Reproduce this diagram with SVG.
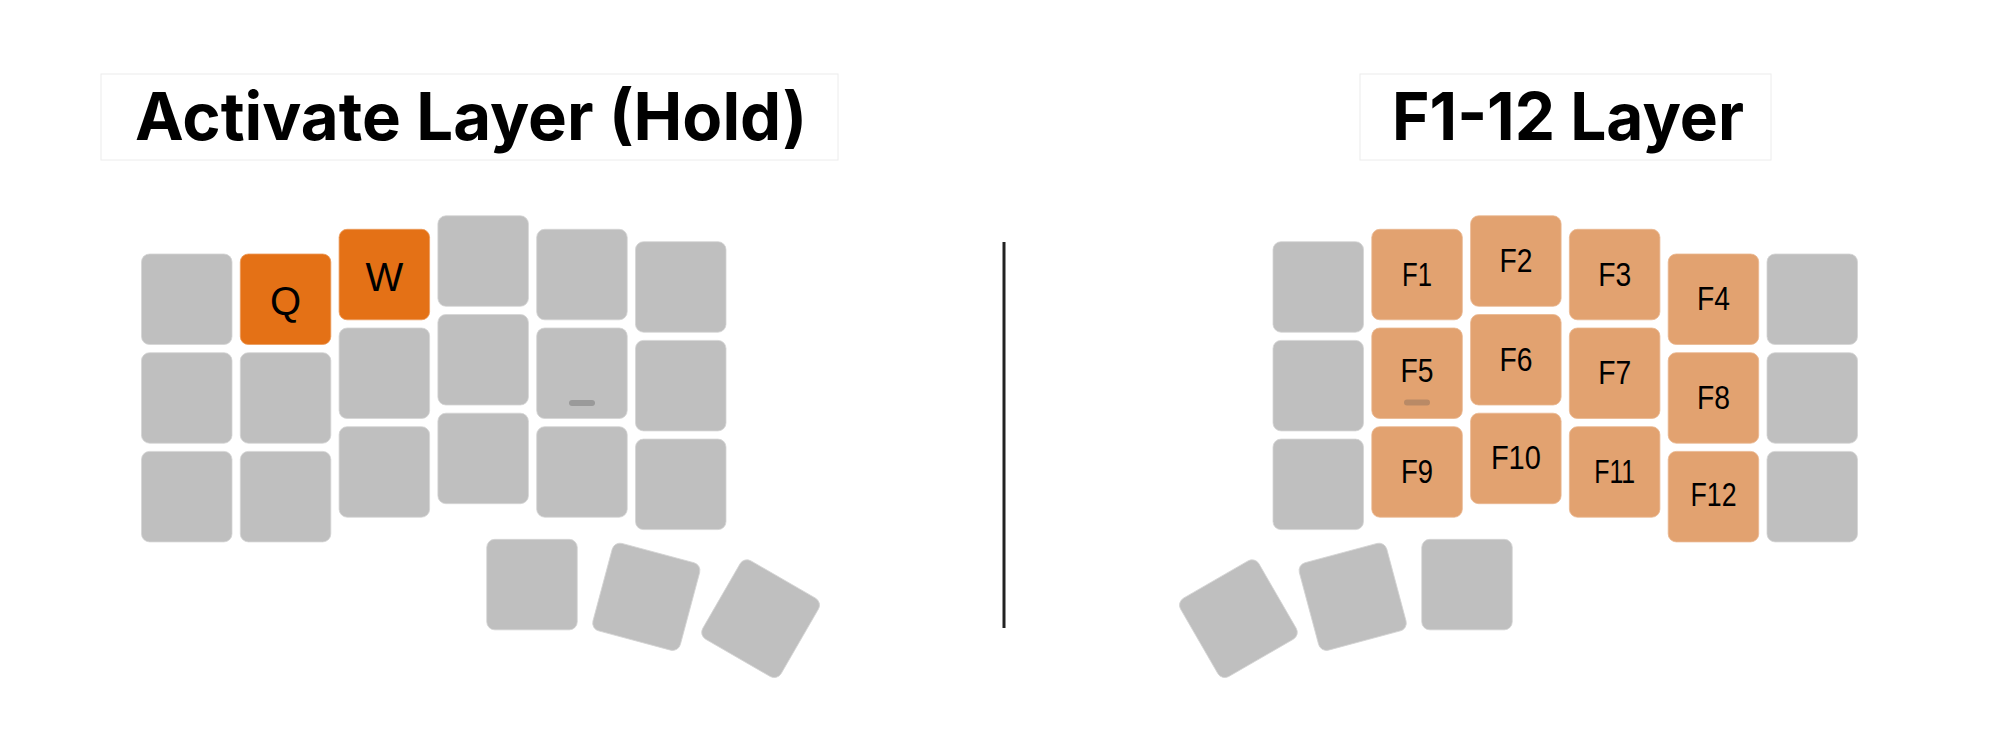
<svg xmlns="http://www.w3.org/2000/svg" width="1999" height="748" viewBox="0 0 1999 748">
<defs>
<style>
.k{fill:#bfbfbf;stroke:#d4d4d4;stroke-width:0.8}
.o{fill:#e47116;stroke:#eb9a5a;stroke-width:0.8}
.f{fill:#e2a270;stroke:#eab890;stroke-width:0.8}
.tb{fill:#ffffff;stroke:#ececec;stroke-width:1}
.tt{font-family:Inter,"Liberation Sans",sans-serif;font-weight:700;font-size:66px;fill:#000}
.kl{font-family:"Liberation Sans",Arial,sans-serif;font-size:40px;fill:#000;text-anchor:middle}
.fl{font-family:"Liberation Sans",Arial,sans-serif;font-size:34px;fill:#000;text-anchor:middle}
</style>
<rect id="key" x="-45.25" y="-45.25" width="90.5" height="90.5" rx="8"/>
</defs>
<rect width="1999" height="748" fill="#ffffff"/>

<g id="title-left">
<rect class="tb" x="101" y="74" width="737" height="86"/>
<text class="tt" x="135" y="140" textLength="672" lengthAdjust="spacingAndGlyphs">Activate Layer (Hold)</text>
</g>
<g id="title-right">
<rect class="tb" x="1360" y="74" width="411" height="86"/>
<text class="tt" x="1392" y="140" textLength="352" lengthAdjust="spacingAndGlyphs">F1-12 Layer</text>
</g>

<g id="connectors">
<line x1="1004" y1="242" x2="1004" y2="628" stroke="#222222" stroke-width="3"/>
</g>

<g id="left-half">
<g id="L-c0"><rect class="k" x="141.5" y="254" width="90.5" height="90.5" rx="8"/><rect class="k" x="141.5" y="352.7" width="90.5" height="90.5" rx="8"/><rect class="k" x="141.5" y="451.4" width="90.5" height="90.5" rx="8"/></g>
<g id="L-c1"><rect class="o" x="240.3" y="254" width="90.5" height="90.5" rx="8"/><text class="kl" x="285.5" y="314.5">Q</text><rect class="k" x="240.3" y="352.7" width="90.5" height="90.5" rx="8"/><rect class="k" x="240.3" y="451.4" width="90.5" height="90.5" rx="8"/></g>
<g id="L-c2"><rect class="o" x="339.1" y="229.3" width="90.5" height="90.5" rx="8"/><text class="kl" x="384.4" y="290.5">W</text><rect class="k" x="339.1" y="328" width="90.5" height="90.5" rx="8"/><rect class="k" x="339.1" y="426.7" width="90.5" height="90.5" rx="8"/></g>
<g id="L-c3"><rect class="k" x="437.9" y="215.8" width="90.5" height="90.5" rx="8"/><rect class="k" x="437.9" y="314.5" width="90.5" height="90.5" rx="8"/><rect class="k" x="437.9" y="413.2" width="90.5" height="90.5" rx="8"/></g>
<g id="L-c4"><rect class="k" x="536.7" y="229.3" width="90.5" height="90.5" rx="8"/><rect class="k" x="536.7" y="328" width="90.5" height="90.5" rx="8"/><rect x="569" y="400" width="26" height="6" rx="3" fill="#9a9a9a"/><rect class="k" x="536.7" y="426.7" width="90.5" height="90.5" rx="8"/></g>
<g id="L-c5"><rect class="k" x="635.5" y="241.7" width="90.5" height="90.5" rx="8"/><rect class="k" x="635.5" y="340.4" width="90.5" height="90.5" rx="8"/><rect class="k" x="635.5" y="439.1" width="90.5" height="90.5" rx="8"/></g>
<g id="L-thumb">
<use href="#key" class="k" transform="translate(532,584.6)"/>
<use href="#key" class="k" transform="translate(646.3,596.8) rotate(15)"/>
<use href="#key" class="k" transform="translate(760.6,618.7) rotate(30)"/>
</g>
</g>

<g id="right-half">
<g id="R-c0"><rect class="k" x="1273" y="241.7" width="90.5" height="90.5" rx="8"/><rect class="k" x="1273" y="340.4" width="90.5" height="90.5" rx="8"/><rect class="k" x="1273" y="439.1" width="90.5" height="90.5" rx="8"/></g>
<g id="R-c1">
<rect class="f" x="1371.8" y="229.3" width="90.5" height="90.5" rx="8"/><text class="fl" x="1417" y="285.5" textLength="30" lengthAdjust="spacingAndGlyphs">F1</text>
<rect class="f" x="1371.8" y="328" width="90.5" height="90.5" rx="8"/><text class="fl" x="1417" y="381.5" textLength="33" lengthAdjust="spacingAndGlyphs">F5</text><rect x="1404" y="399.5" width="26" height="6" rx="3" fill="#b98a66"/>
<rect class="f" x="1371.8" y="426.7" width="90.5" height="90.5" rx="8"/><text class="fl" x="1417" y="483" textLength="32" lengthAdjust="spacingAndGlyphs">F9</text>
</g>
<g id="R-c2">
<rect class="f" x="1470.6" y="215.8" width="90.5" height="90.5" rx="8"/><text class="fl" x="1515.9" y="272" textLength="33" lengthAdjust="spacingAndGlyphs">F2</text>
<rect class="f" x="1470.6" y="314.5" width="90.5" height="90.5" rx="8"/><text class="fl" x="1515.9" y="370.5" textLength="33" lengthAdjust="spacingAndGlyphs">F6</text>
<rect class="f" x="1470.6" y="413.2" width="90.5" height="90.5" rx="8"/><text class="fl" x="1515.9" y="469" textLength="50" lengthAdjust="spacingAndGlyphs">F10</text>
</g>
<g id="R-c3">
<rect class="f" x="1569.4" y="229.3" width="90.5" height="90.5" rx="8"/><text class="fl" x="1614.7" y="285.5" textLength="33" lengthAdjust="spacingAndGlyphs">F3</text>
<rect class="f" x="1569.4" y="328" width="90.5" height="90.5" rx="8"/><text class="fl" x="1614.7" y="384" textLength="33" lengthAdjust="spacingAndGlyphs">F7</text>
<rect class="f" x="1569.4" y="426.7" width="90.5" height="90.5" rx="8"/><text class="fl" x="1614.7" y="483" textLength="41" lengthAdjust="spacingAndGlyphs">F11</text>
</g>
<g id="R-c4">
<rect class="f" x="1668.2" y="254" width="90.5" height="90.5" rx="8"/><text class="fl" x="1713.5" y="310" textLength="33" lengthAdjust="spacingAndGlyphs">F4</text>
<rect class="f" x="1668.2" y="352.7" width="90.5" height="90.5" rx="8"/><text class="fl" x="1713.5" y="408.7" textLength="33" lengthAdjust="spacingAndGlyphs">F8</text>
<rect class="f" x="1668.2" y="451.4" width="90.5" height="90.5" rx="8"/><text class="fl" x="1713.5" y="506" textLength="46" lengthAdjust="spacingAndGlyphs">F12</text>
</g>
<g id="R-c5"><rect class="k" x="1767" y="254" width="90.5" height="90.5" rx="8"/><rect class="k" x="1767" y="352.7" width="90.5" height="90.5" rx="8"/><rect class="k" x="1767" y="451.4" width="90.5" height="90.5" rx="8"/></g>
<g id="R-thumb">
<use href="#key" class="k" transform="translate(1467,584.6)"/>
<use href="#key" class="k" transform="translate(1352.7,596.8) rotate(-15)"/>
<use href="#key" class="k" transform="translate(1238.4,618.7) rotate(-30)"/>
</g>
</g>
</svg>
